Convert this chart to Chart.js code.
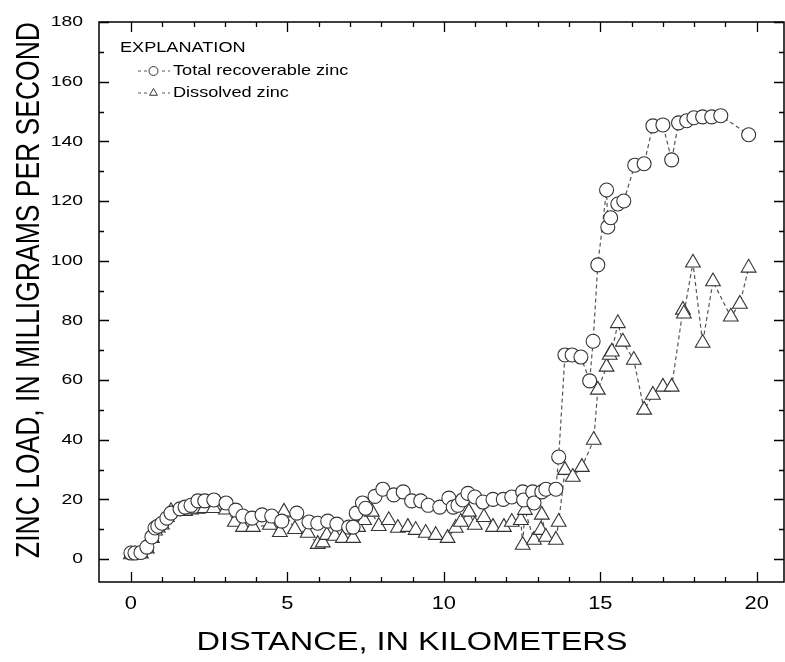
<!DOCTYPE html>
<html>
<head>
<meta charset="utf-8">
<script src="https://cdn.jsdelivr.net/npm/chart.js@4/dist/chart.umd.min.js"></script>
<style>
  body { margin: 0; background: #fff; }
  canvas { display: block; }
</style>
</head>
<body>
<canvas id="chart" width="785" height="662"></canvas>
<script>
// Distancia (km) y carga de zinc (mg/s)
const totalKm = [0.0, 0.13, 0.32, 0.51, 0.67, 0.77, 0.86, 0.99, 1.15, 1.28, 1.57, 1.73, 1.92, 2.14, 2.36, 2.65, 3.04, 3.35, 3.58, 3.87,
  4.19, 4.5, 4.82, 5.3, 5.69, 5.97, 6.29, 6.58, 6.96, 7.1, 7.2, 7.4, 7.5, 7.8, 8.05, 8.4, 8.7, 8.97, 9.26, 9.5,
  9.87, 10.16, 10.3, 10.45, 10.6, 10.77, 10.99, 11.25, 11.57, 11.9, 12.17, 12.52, 12.55, 12.84, 12.88, 13.13, 13.26, 13.58, 13.67, 13.87,
  14.1, 14.38, 14.66, 14.77, 14.92, 15.2, 15.24, 15.33, 15.56, 15.75, 16.1, 16.4, 16.68, 17.0, 17.28, 17.5, 17.76, 17.99, 18.27, 18.56,
  18.85, 19.74];
const totalZinc = [2.0, 2.0, 2.2, 4.0, 7.4, 10.4, 11.0, 12.0, 13.7, 15.4, 16.8, 17.4, 18.0, 19.5, 19.5, 19.8, 18.8, 16.4, 14.4, 13.7,
  14.8, 14.4, 12.7, 15.4, 12.4, 12.0, 12.7, 11.7, 10.7, 10.7, 15.4, 18.8, 17.0, 21.0, 23.4, 21.5, 22.5, 19.5, 19.5, 18.0,
  17.4, 20.4, 17.4, 18.0, 19.8, 22.0, 20.8, 19.1, 20.0, 20.0, 20.8, 22.5, 19.8, 22.5, 18.8, 22.5, 23.4, 23.4, 34.2, 68.4,
  68.4, 67.7, 59.7, 73.0, 98.6, 123.7, 111.3, 114.4, 119.0, 120.0, 132.0, 132.5, 145.2, 145.5, 133.8, 146.2, 146.9, 147.9, 148.2, 148.2,
  148.6, 142.2];

const dissolvedKm = [0.0, 0.13, 0.32, 0.51, 0.67, 0.77, 0.86, 0.99, 1.15, 1.28, 1.57, 1.73, 1.92, 2.14, 2.36, 2.65, 3.04, 3.32, 3.58, 3.9,
  4.44, 4.76, 4.89, 5.24, 5.65, 5.97, 6.13, 6.26, 6.52, 6.77, 7.1, 7.26, 7.45, 7.7, 7.92, 8.24, 8.53, 8.85, 9.1, 9.42,
  9.74, 10.12, 10.38, 10.54, 10.8, 10.99, 11.28, 11.57, 11.92, 12.17, 12.46, 12.52, 12.59, 12.88, 13.1, 13.13, 13.26, 13.58, 13.67, 13.87,
  14.12, 14.41, 14.79, 14.92, 15.2, 15.3, 15.37, 15.56, 15.72, 16.07, 16.4, 16.68, 17.0, 17.28, 17.64, 17.67, 17.96, 18.27, 18.6, 19.17,
  19.46, 19.74];
const dissolvedZinc = [1.5, 1.5, 1.8, 3.5, 7.0, 9.5, 10.5, 11.5, 14.0, 16.0, 16.0, 16.0, 16.5, 16.8, 17.0, 17.0, 16.5, 12.4, 10.7, 10.7,
  11.4, 9.0, 15.8, 10.0, 8.7, 5.0, 5.5, 8.0, 7.7, 7.0, 7.0, 10.7, 13.0, 15.8, 11.0, 13.0, 10.4, 10.7, 9.7, 8.7,
  8.0, 7.0, 10.4, 12.4, 15.8, 11.4, 14.0, 10.7, 10.7, 12.4, 13.0, 4.7, 16.4, 6.4, 9.7, 14.8, 7.4, 6.4, 12.4, 29.8,
  27.5, 30.8, 39.9, 56.7, 64.4, 68.4, 69.5, 79.0, 72.8, 66.7, 50.0, 55.0, 57.7, 57.7, 83.5, 82.2, 99.3, 72.4, 93.0, 81.2,
  85.5, 97.6];

const xTicks = [0, 5, 10, 15, 20];
const yTicks = [0, 20, 40, 60, 80, 100, 120, 140, 160, 180];

const seriesNames = ['Total recoverable zinc', 'Dissolved zinc'];
const xTitle = 'DISTANCE, IN KILOMETERS';
const yTitle = 'ZINC LOAD, IN MILLIGRAMS PER SECOND';
const legendTitle = 'EXPLANATION';

const FONT = "'Liberation Sans', Arial, sans-serif";
const SX = 1.25; // el original esta algo estirado en horizontal

function toPoints(xs, ys) {
  return xs.map((x, i) => ({ x: x, y: ys[i] }));
}

function stretchedText(ctx, text, x, y, size, align, rotate) {
  ctx.save();
  ctx.translate(x, y);
  ctx.scale(SX, 1);
  if (rotate) ctx.rotate(-Math.PI / 2);
  ctx.font = size + 'px ' + FONT;
  ctx.textAlign = align;
  ctx.textBaseline = 'middle';
  ctx.fillStyle = '#000';
  ctx.fillText(text, 0, 0);
  ctx.restore();
}

// Marcas de graduacion hacia dentro, caja, textos y leyenda
const framePlugin = {
  id: 'frame',
  afterDraw(chart) {
    const ctx = chart.ctx;
    const a = chart.chartArea;
    const xs = chart.scales.x;
    const ys = chart.scales.y;
    ctx.save();
    ctx.strokeStyle = '#000';
    ctx.lineWidth = 1.5;
    ctx.strokeRect(a.left, a.top, a.right - a.left, a.bottom - a.top);

    ctx.lineWidth = 1.3;
    ctx.beginPath();
    for (let v = 0; v <= 20; v++) {
      const px = Math.round(xs.getPixelForValue(v)) + 0.5;
      const len = v % 5 === 0 ? 10 : 5;
      ctx.moveTo(px, a.bottom); ctx.lineTo(px, a.bottom - len);
      ctx.moveTo(px, a.top); ctx.lineTo(px, a.top + len);
    }
    for (let v = 0; v <= 180; v += 10) {
      const py = Math.round(ys.getPixelForValue(v)) + 0.5;
      const len = v % 20 === 0 ? 10 : 5;
      ctx.moveTo(a.left, py); ctx.lineTo(a.left + len, py);
      ctx.moveTo(a.right, py); ctx.lineTo(a.right - len, py);
    }
    ctx.stroke();

    // etiquetas de los ejes
    xTicks.forEach(v => stretchedText(ctx, String(v), xs.getPixelForValue(v), a.bottom + 22, 17.5, 'center'));
    yTicks.forEach(v => stretchedText(ctx, String(v), a.left - 16, ys.getPixelForValue(v), 15.5, 'right'));

    // titulos de los ejes
    stretchedText(ctx, xTitle, 412, 643, 26, 'center');
    stretchedText(ctx, yTitle, 30, 290, 26.5, 'center', true);

    // leyenda
    stretchedText(ctx, legendTitle, 120, 48, 14.5, 'left');
    chart.data.datasets.forEach((ds, i) => {
      const y = 71 + i * 22;
      ctx.strokeStyle = '#555';
      ctx.lineWidth = 1;
      ctx.setLineDash([3, 3]);
      ctx.beginPath();
      ctx.moveTo(138, y); ctx.lineTo(170, y);
      ctx.stroke();
      ctx.setLineDash([]);
      ctx.fillStyle = '#fff';
      ctx.fillRect(148, y - 5, 11, 10);
      ctx.strokeStyle = '#333';
      Chart.helpers.drawPoint(ctx, {
        pointStyle: ds.pointStyle, radius: 4.5, borderWidth: 1
      }, 153.5, y);
      stretchedText(ctx, ds.label, 173, y, 14.5, 'left');
    });
    ctx.restore();
  }
};

const lineStyle = {
  showLine: true,
  borderColor: '#555',
  borderWidth: 1.2,
  borderDash: [4, 3],
  pointBackgroundColor: '#fff',
  pointBorderColor: '#333',
  pointBorderWidth: 1.1,
  fill: false
};

function noPad(s) {
  s.paddingLeft = 0; s.paddingRight = 0; s.paddingTop = 0; s.paddingBottom = 0;
}

new Chart(document.getElementById('chart'), {
  type: 'scatter',
  data: {
    datasets: [
      Object.assign({}, lineStyle, {
        label: seriesNames[0],
        data: toPoints(totalKm, totalZinc),
        pointStyle: 'circle',
        pointRadius: 7
      }),
      Object.assign({}, lineStyle, {
        label: seriesNames[1],
        data: toPoints(dissolvedKm, dissolvedZinc),
        pointStyle: 'triangle',
        pointRadius: 8.5
      })
    ]
  },
  options: {
    responsive: false,
    animation: false,
    devicePixelRatio: 1,
    layout: { autoPadding: false, padding: { top: 22, right: 1, left: 0, bottom: 0 } },
    plugins: {
      legend: { display: false },
      tooltip: { enabled: false }
    },
    scales: {
      x: {
        type: 'linear',
        min: -1.02,
        max: 20.87,
        grid: { display: false, drawTicks: false },
        border: { display: false },
        afterBuildTicks: s => { s.ticks = xTicks.map(v => ({ value: v })); },
        afterFit: s => { s.height = 80; noPad(s); },
        ticks: { display: false }
      },
      y: {
        type: 'linear',
        min: -7.7,
        max: 180,
        grid: { display: false, drawTicks: false },
        border: { display: false },
        afterBuildTicks: s => { s.ticks = yTicks.map(v => ({ value: v })); },
        afterFit: s => { s.width = 99; noPad(s); },
        ticks: { display: false }
      }
    }
  },
  plugins: [framePlugin]
});
</script>
</body>
</html>
